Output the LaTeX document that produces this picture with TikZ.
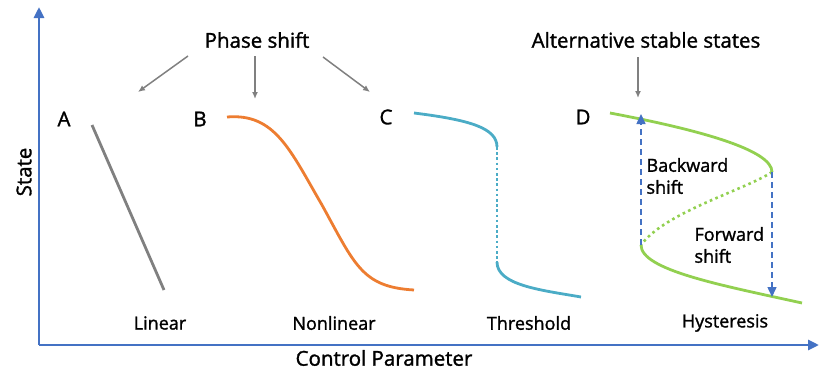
\documentclass[tikz,border=0pt]{standalone}
\usepackage{fontspec}
\setmainfont{Open Sans}[UprightFeatures={FakeBold=1.4}]
\usetikzlibrary{arrows.meta}
\definecolor{axisblue}{HTML}{4472C4}
\definecolor{curvegray}{HTML}{808080}
\definecolor{curveorange}{HTML}{ED7D31}
\definecolor{curveteal}{HTML}{4BACC6}
\definecolor{curvegreen}{HTML}{92D050}

\begin{document}
\begin{tikzpicture}[x=1pt,y=-1pt,
    axis/.style={axisblue,line width=2.8pt,-{Triangle[length=11pt,width=10pt]}},
    pointer/.style={curvegray,line width=1.5pt,-{Latex[length=7pt,width=6pt]}},
    curve/.style={line width=2.8pt},
    shiftarrow/.style={axisblue,line width=1.5pt,dash pattern=on 6pt off 4pt,-{Triangle[length=10pt,width=9pt]}},
    biglabel/.style={font=\fontsize{20.5}{24}\selectfont},
    smalllabel/.style={font=\fontsize{18}{22}\selectfont}]
    \useasboundingbox (0,0) rectangle (819,372);
    % axes
    \coordinate (origin) at (39,345);
    \coordinate (ytip) at (39,7);
    \coordinate (xtip) at (819,345);
    \draw[axis] (origin) -- (ytip);
    \draw[axis] (origin) -- (xtip);
    \node[biglabel,rotate=90] (state) at (24,172) {State};
    \node[biglabel] (control) at (384,358) {Control Parameter};
    % headings and pointers
    \node[biglabel] (phase) at (257,40) {Phase shift};
    \node[biglabel] (alt) at (646,40) {Alternative stable states};
    \coordinate (pa1) at (188,56);  \coordinate (pb1) at (138,92);
    \coordinate (pa2) at (255,56);  \coordinate (pb2) at (255,99);
    \coordinate (pa3) at (323,57);  \coordinate (pb3) at (370,92);
    \coordinate (pa4) at (638,57);  \coordinate (pb4) at (638,98);
    \foreach \i in {1,...,4}
        \draw[pointer] (pa\i) -- (pb\i);
    % panel letters
    \node[biglabel] (lA) at (64,119) {A};
    \node[biglabel] (lB) at (200,119) {B};
    \node[biglabel] (lC) at (386,117) {C};
    \node[biglabel] (lD) at (583,117) {D};
    % A: linear
    \draw[curve,curvegray] (92,125) -- (164,290);
    % B: nonlinear
    \draw[curve,curveorange] (227,117) .. controls (275,113) and (290,150) .. (322,205)
        .. controls (355,265) and (362,287) .. (414,290);
    % C: threshold
    \draw[curve,curveteal] (414,113) .. controls (470,120) and (497,128) .. (497,147);
    \draw[curve,curveteal,line width=2.6pt,dash pattern=on 2.6pt off 2.6pt] (497,147) -- (497,262);
    \draw[curve,curveteal] (497,262) .. controls (497,285) and (540,290) .. (581,297);
    % D: hysteresis
    \coordinate (fold) at (772,172);
    \coordinate (knee) at (641,245);
    \draw[curve,curvegreen] (610,113) .. controls (700,130) and (772,150) .. (fold);
    \draw[curve,curvegreen,line width=2.6pt,dash pattern=on 2.6pt off 3.4pt] (fold) .. controls (745,190) and (665,212) .. (knee);
    \draw[curve,curvegreen] (knee) .. controls (641,270) and (720,285) .. (802,303);
    \coordinate (backtip) at (641,114);
    \coordinate (fwdtip) at (772,297);
    \draw[shiftarrow] (knee) -- (backtip);
    \draw[shiftarrow] (fold) -- (fwdtip);
    \node[smalllabel,anchor=west,align=left] (back) at (643,176) {Backward\\shift};
    \node[smalllabel,anchor=west,align=left] (fwd) at (691,245) {Forward\\shift};
    % bottom labels
    \node[smalllabel] (linear) at (160,323) {Linear};
    \node[smalllabel] (nonlin) at (334,323) {Nonlinear};
    \node[smalllabel] (thresh) at (529,323) {Threshold};
    \node[smalllabel] (hyst) at (725,323) {Hysteresis};
\end{tikzpicture}
\end{document}
